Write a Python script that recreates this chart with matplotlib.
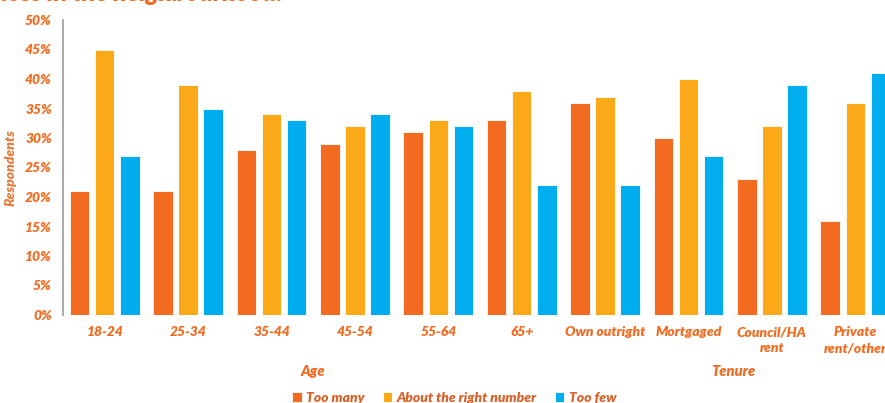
import matplotlib.pyplot as plt
import numpy as np

plt.rcParams['font.family'] = ['Lato', 'DejaVu Sans']

categories = ['18-24', '25-34', '35-44', '45-54', '55-64', '65+',
              'Own outright', 'Mortgaged', 'Council/HA\nrent', 'Private\nrent/other']
too_many = [21, 21, 28, 29, 31, 33, 36, 30, 23, 16]
about_right = [45, 39, 34, 32, 33, 38, 37, 40, 32, 36]
too_few = [27, 35, 33, 34, 32, 22, 22, 27, 39, 41]
series_names = ['Too many', 'About the right number', 'Too few']
yticks = [0, 5, 10, 15, 20, 25, 30, 35, 40, 45, 50]

c_orange = '#F26B21'
c_yellow = '#FBA919'
c_blue = '#00AEEF'
txt = '#F26B21'
wt = 'heavy'

W, H = 885, 403
fig = plt.figure(figsize=(W / 100, H / 100), dpi=100, facecolor='white')
# axes run past the right edge, as in the reference (last group is clipped)
ax = fig.add_axes([63 / W, 1 - 315 / H, (897 - 63) / W, (315 - 20) / H])

x = np.arange(len(categories))
w = 0.235
off = 0.30
for vals, col, dx, name in [(too_many, c_orange, -off, series_names[0]),
                            (about_right, c_yellow, 0, series_names[1]),
                            (too_few, c_blue, off, series_names[2])]:
    ax.bar(x + dx, vals, width=w, color=col, edgecolor='white', linewidth=0.6, label=name)

ax.set_xlim(-0.5, len(categories) - 0.5)
ax.set_ylim(0, 50)
ax.set_yticks(yticks)
ax.set_yticklabels([f'{v}%' for v in yticks], fontsize=10, fontweight=wt,
                   fontstyle='italic', color=txt)
ax.set_xticks(x)
ax.set_xticklabels(categories, fontsize=10, fontweight=wt, fontstyle='italic',
                   color=txt, linespacing=1.4, va='top')
ax.tick_params(axis='both', length=0, pad=8)

for s in ['top', 'right', 'bottom']:
    ax.spines[s].set_visible(False)
ax.spines['left'].set_color('#999999')
ax.spines['left'].set_linewidth(1.2)

ax.set_ylabel('Respondents', fontsize=10, fontweight=wt, fontstyle='italic',
              color='#E97A3D', labelpad=6)

# group labels
fig.text(313 / W, 1 - 372 / H, 'Age', fontsize=10.5, fontweight=wt, fontstyle='italic',
         color=txt, ha='center', va='center')
fig.text(733 / W, 1 - 372 / H, 'Tenure', fontsize=10.5, fontweight=wt, fontstyle='italic',
         color=txt, ha='center', va='center')

# clipped title at top
fig.text(282 / W, 1 - 1 / H, 'Number of services in the neighbourhood.', fontsize=18,
         fontweight=wt, fontstyle='italic', color=txt, ha='right', va='baseline')

leg = fig.legend(loc='center', bbox_to_anchor=(454 / W, 1 - 398 / H), ncol=3, frameon=False,
                 handlelength=0.7, handleheight=0.7, handletextpad=0.3, columnspacing=1.3,
                 prop={'size': 10, 'weight': wt, 'style': 'italic'})
for t in leg.get_texts():
    t.set_color('#D9622B')

fig.savefig('out.png', dpi=100, facecolor='white')
